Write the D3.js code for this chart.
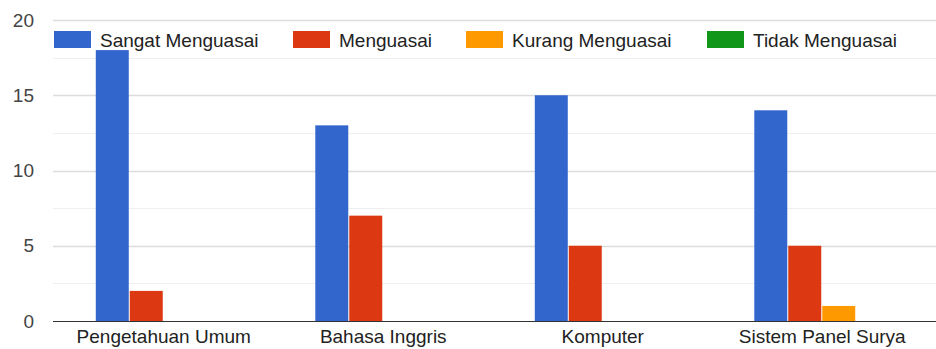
<!DOCTYPE html>
<html>
<head>
<meta charset="utf-8">
<script src="https://cdn.jsdelivr.net/npm/d3@7"></script>
<style>
  html, body { margin: 0; padding: 0; background: #fff; }
  svg { display: block; font-family: "Liberation Sans", Arial, sans-serif; }
</style>
</head>
<body>
<svg id="chart" width="936" height="349"></svg>
<script>
// Categories and series
const categories = ["Pengetahuan Umum", "Bahasa Inggris", "Komputer", "Sistem Panel Surya"];
const seriesNames = ["Sangat Menguasai", "Menguasai", "Kurang Menguasai", "Tidak Menguasai"];
const sangatMenguasai = [18, 13, 15, 14];
const menguasai = [2, 7, 5, 5];
const kurangMenguasai = [0, 0, 0, 1];
const tidakMenguasai = [0, 0, 0, 0];
const seriesColors = ["#3366cc", "#dc3912", "#ff9900", "#109618"];
const yTicks = [0, 5, 10, 15, 20];
const yMinorTicks = [2.5, 7.5, 12.5, 17.5];

const seriesValues = [sangatMenguasai, menguasai, kurangMenguasai, tidakMenguasai];

const plot = { left: 53, right: 936, top: 20, bottom: 321 };

const svg = d3.select("#chart");

const y = d3.scaleLinear().domain([0, 20]).range([plot.bottom, plot.top]);
const x0 = d3.scaleBand().domain(categories).range([54, 932]).paddingInner(0).paddingOuter(0);
const x1 = d3.scaleBand().domain(seriesNames).range([0, x0.bandwidth()]).paddingInner(0).paddingOuter(1.23);

// Gridlines
svg.append("g").selectAll("line").data(yMinorTicks).join("line")
  .attr("x1", plot.left).attr("x2", plot.right)
  .attr("y1", d => Math.round(y(d)) + 0.5).attr("y2", d => Math.round(y(d)) + 0.5)
  .attr("stroke", "#efefef").attr("stroke-width", 1);

svg.append("g").selectAll("line").data(yTicks.filter(t => t !== 0)).join("line")
  .attr("x1", plot.left).attr("x2", plot.right)
  .attr("y1", d => Math.round(y(d)) + 0.5).attr("y2", d => Math.round(y(d)) + 0.5)
  .attr("stroke", "#dcdcdc").attr("stroke-width", 1.5);

// Y-axis tick labels
svg.append("g").selectAll("text").data(yTicks).join("text")
  .attr("x", 34).attr("y", d => y(d))
  .attr("dy", "0.35em")
  .attr("text-anchor", "end")
  .attr("font-size", 19)
  .attr("fill", "#444")
  .text(d => d);

// Bars
const groups = svg.append("g").selectAll("g").data(categories).join("g")
  .attr("transform", c => `translate(${x0(c)},0)`);

groups.selectAll("rect")
  .data((c, ci) => seriesNames.map((s, si) => ({ s, si, v: seriesValues[si][ci] })).filter(d => d.v > 0))
  .join("rect")
  .attr("x", d => x1(d.s))
  .attr("y", d => y(d.v))
  .attr("width", x1.bandwidth() - 1)
  .attr("height", d => y(0) - y(d.v))
  .attr("fill", d => seriesColors[d.si]);

// Baseline
svg.append("line")
  .attr("x1", plot.left).attr("x2", plot.right)
  .attr("y1", y(0) + 0.5).attr("y2", y(0) + 0.5)
  .attr("stroke", "#333").attr("stroke-width", 1.2);

// Category labels
svg.append("g").selectAll("text").data(categories).join("text")
  .attr("x", c => x0(c) + x0.bandwidth() / 2)
  .attr("y", 343)
  .attr("text-anchor", "middle")
  .attr("font-size", 19)
  .attr("fill", "#222")
  .text(c => c);

// Legend
const legendSwatchX = [54, 293, 466, 707];
const legend = svg.append("g");
seriesNames.forEach((name, i) => {
  legend.append("rect")
    .attr("x", legendSwatchX[i]).attr("y", 31)
    .attr("width", 37).attr("height", 17)
    .attr("fill", seriesColors[i]);
  legend.append("text")
    .attr("x", legendSwatchX[i] + 46).attr("y", 47)
    .attr("font-size", 19)
    .attr("fill", "#222")
    .text(name);
});
</script>
</body>
</html>
